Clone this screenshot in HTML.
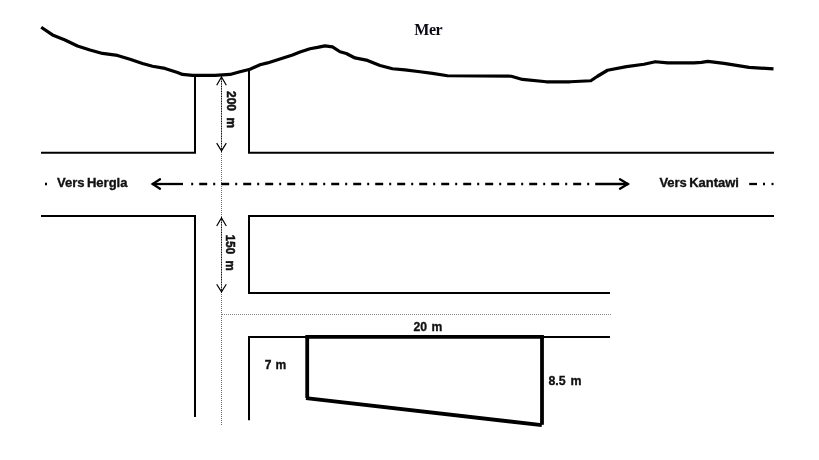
<!DOCTYPE html>
<html lang="fr">
<head>
<meta charset="utf-8">
<title>Plan de situation</title>
<style>
html,body{margin:0;padding:0;background:#fff;}
body{width:819px;height:460px;overflow:hidden;}
svg{display:block;will-change:transform;}
.sans{font-family:"Liberation Sans",sans-serif;font-weight:bold;fill:#111;stroke:#111;stroke-width:0.35px;word-spacing:-1.3px;}
.serif{font-family:"Liberation Serif",serif;font-weight:bold;fill:#0a0a14;}
</style>
</head>
<body>
<svg width="819" height="460" viewBox="0 0 819 460">
<rect width="819" height="460" fill="#fff"/>

<!-- coastline -->
<path id="coast" transform="translate(0 0.45)" fill="none" stroke="#000" stroke-width="3.25" stroke-linejoin="round" stroke-linecap="butt"
 d="M41.2 26.8 L52.5 34.5 L65 39.5 L77.5 45.5 L90 49.5 L102.5 53 L117.5 55 L130 58.8 L142.5 63 L152.5 65.8 L165 68 L177.5 72 L182.5 74 L192.5 75 L215 75 L230 74 L240 71.3 L250 68.8 L260 64.3 L267.5 62.5 L280 58.5 L292.5 54.5 L300 51.5 L310 48.3 L317.5 47 L325 45.5 L332.5 46.5 L340 51.3 L346.3 53 L355 57.5 L367.5 60 L380 65 L392.5 68.3 L405 69.5 L420 71.3 L432.5 73 L447.5 75.3 L511.3 75.8 L522.5 79 L546.3 81.3 L570 81.3 L590.8 80.3 L597.5 75.8 L607.5 69.8 L626.5 66.2 L644 63.8 L655.3 61.3 L667.8 62.5 L694 62.5 L701.5 62 L707.8 61 L724 63 L749 67 L773.5 68.5"/>

<!-- roads -->
<g fill="none" stroke="#000" stroke-width="2" stroke-linecap="butt" stroke-linejoin="miter">
  <path d="M41 152.85 H195 V76"/>
  <path d="M249 71 V152.85 H774"/>
  <path d="M41 216 H195 V417"/>
  <path d="M774 216 H249 V292.9 H610"/>
  <path d="M249 420.3 V336.9 H610"/>
</g>

<!-- thick plot -->
<g fill="none" stroke="#000" stroke-width="3.8" stroke-linecap="butt">
  <path d="M305.3 336.8 H543.9"/>
  <path d="M307.2 336.8 V398"/>
  <path d="M542 336.8 V424.8"/>
  <path d="M306 398.2 L541.8 425.15"/>
</g>

<!-- thin dotted guide lines -->
<g fill="none" stroke="#6a6a6a" stroke-width="1" stroke-dasharray="1 1">
  <path d="M221.5 152 V218"/>
  <path d="M221.5 292 V425"/>
  <path d="M222 314.5 H612" stroke="#8a8a8a"/>
  <path d="M221.5 76 V152" stroke="#000" stroke-dasharray="1.1 0.57"/>
  <path d="M221.5 217 V293" stroke="#000" stroke-dasharray="1.1 0.57"/>
</g>

<!-- dimension arrows -->
<g fill="none" stroke="#000" stroke-width="1.2">
  <path d="M216.7 85.2 L221.5 77 L226.3 85.2"/>
  <path d="M216.7 143.1 L221.5 150.8 L226.3 143.1"/>
  <path d="M216.7 226 L221.5 218 L226.3 226"/>
  <path d="M216.7 284.2 L221.5 291.9 L226.3 284.2"/>
</g>

<!-- centre line -->
<g fill="none" stroke="#000" stroke-width="2.3">
  <path d="M191.2 184 H593" stroke-dasharray="2 6 8 6"/>
  <path d="M152 184 H183"/>
  <path d="M595.2 184 H628.5"/>
  <path d="M160 179.3 L152.7 184 L160 188.7" stroke-linecap="round"/>
  <path d="M620 179.3 L627.8 184 L620 188.7" stroke-linecap="round"/>
  <path d="M45 184 H47"/>
  <path d="M749.2 184 H757"/>
  <path d="M763 184 H765"/>
  <path d="M771.5 184 H773.5"/>
</g>

<!-- labels -->
<text class="serif" x="414.3" y="34.8" font-size="16" textLength="28.3" lengthAdjust="spacing">Mer</text>
<text class="sans" x="57" y="187" font-size="13.1" textLength="70.5" lengthAdjust="spacingAndGlyphs">Vers Hergla</text>
<text class="sans" x="659.4" y="187" font-size="13.1" textLength="79.6" lengthAdjust="spacingAndGlyphs">Vers Kantawi</text>
<text class="sans" x="413.6" y="331.3" font-size="13.1" textLength="28.7" lengthAdjust="spacingAndGlyphs" style="word-spacing:1px">20 m</text>
<text class="sans" x="264.7" y="369.2" font-size="13.1" textLength="21.5" lengthAdjust="spacingAndGlyphs" style="word-spacing:0.75px">7 m</text>
<text class="sans" x="548.4" y="385.3" font-size="13.1" textLength="33.1" lengthAdjust="spacingAndGlyphs" style="word-spacing:1.5px">8.5 m</text>
<text class="sans" transform="translate(227.2 91) rotate(90)" font-size="13.1" textLength="37.1" lengthAdjust="spacingAndGlyphs" style="word-spacing:3.6px;stroke-width:0.55px">200 m</text>
<text class="sans" transform="translate(226.2 234.8) rotate(90)" font-size="13.1" textLength="35.9" lengthAdjust="spacingAndGlyphs" style="word-spacing:3.6px;stroke-width:0.55px">150 m</text>
</svg>
</body>
</html>
